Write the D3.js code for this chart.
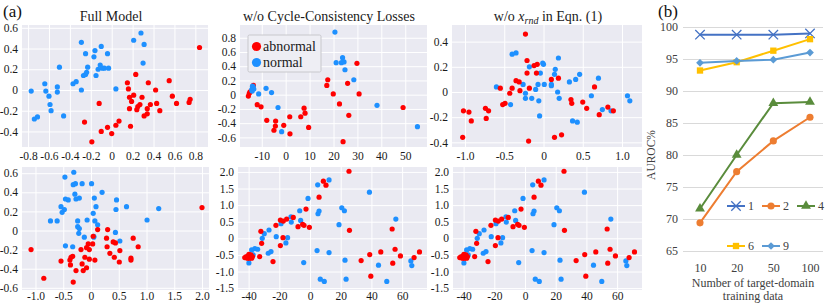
<!DOCTYPE html>
<html>
<head>
<meta charset="utf-8">
<script src="https://cdn.jsdelivr.net/npm/d3@7"></script>
<style>
  body { margin: 0; background: #fff; }
  svg { display: block; font-family: "Liberation Serif", "DejaVu Serif", serif; }
</style>
</head>
<body>
<div></div>
<script>
// ---- (a) embeddings: [x, y] per sample ----
const fullNormal = [[-0.77,-0.01],[-0.74,-0.28],[-0.71,-0.26],[-0.64,0.06],[-0.63,-0.01],[-0.60,-0.06],[-0.59,-0.14],[-0.58,-0.20],[-0.52,0.03],[-0.52,-0.02],[-0.50,0.22],[-0.46,-0.25],[-0.37,0.06],[-0.34,0.08],[-0.29,0.46],[-0.29,0.0],[-0.27,0.14],[-0.25,0.35],[-0.25,0.15],[-0.24,0.17],[-0.23,0.22],[-0.17,0.32],[-0.16,0.38],[-0.15,0.14],[-0.13,0.20],[-0.11,0.24],[-0.10,0.42],[-0.07,0.21],[-0.09,0.21],[-0.04,0.35],[-0.03,0.21],[0.04,0.01],[0.21,0.48],[0.28,0.55],[0.31,0.44],[0.30,0.26]];
const fullAbnormal = [[0.84,0.41],[-0.26,-0.31],[-0.19,-0.50],[-0.12,-0.13],[-0.10,-0.40],[-0.04,-0.36],[0.0,-0.42],[0.04,-0.34],[0.07,-0.30],[0.15,0.07],[0.16,0.01],[0.17,-0.07],[0.17,-0.18],[0.18,-0.35],[0.19,-0.11],[0.21,-0.05],[0.23,0.15],[0.24,-0.19],[0.25,-0.16],[0.27,-0.14],[0.29,-0.07],[0.31,-0.25],[0.34,-0.23],[0.34,-0.18],[0.35,0.07],[0.37,-0.14],[0.42,0.0],[0.43,-0.13],[0.46,-0.20],[0.55,0.09],[0.58,-0.06],[0.62,-0.13],[0.74,-0.12],[0.75,-0.09]];

const noCycleNormal = [[-14.2,0.07],[-13.6,0.11],[-13.9,0.12],[-13.3,0.08],[-14.0,0.05],[-13.7,0.09],[-11.3,0.01],[-8.2,0.09],[-5.9,0.03],[-3.2,-0.18],[-1.7,-0.52],[20.6,0.88],[21.1,0.45],[23.8,0.52],[23.3,0.45],[24.4,0.46],[24.8,0.35],[28.5,0.21],[38.2,-0.15],[55.1,-0.45]];
const noCycleAbnormal = [[-15.6,-0.02],[-15.2,0.02],[-14.9,0.04],[-13.5,0.13],[-11.9,-0.14],[-10.3,-0.17],[-7.9,-0.36],[-4.2,-0.37],[-4.3,-0.44],[-4.9,-0.50],[-0.8,-0.43],[1.7,-0.31],[1.8,-0.55],[6.3,-0.31],[7.7,-0.19],[8.1,-0.26],[9.6,-0.46],[17.2,0.13],[17.6,0.21],[19.9,0.01],[22.5,-0.13],[24.0,-0.66],[25.9,0.16],[26.4,-0.29],[29.8,0.44],[30.7,0.01],[49.1,-0.18]];

const noRndNormal = [[-0.60,0.04],[-0.42,-0.10],[-0.40,0.30],[-0.35,0.31],[-0.26,0.06],[-0.23,-0.01],[-0.23,-0.05],[-0.18,0.20],[-0.15,-0.05],[-0.10,0.02],[-0.07,0.06],[-0.06,-0.07],[-0.04,0.15],[-0.05,-0.19],[-0.01,0.23],[0.0,0.22],[0.01,0.06],[0.10,0.06],[0.10,0.05],[0.14,0.14],[0.15,0.18],[0.18,0.0],[0.19,0.27],[0.20,-0.05],[0.33,0.08],[0.37,-0.23],[0.41,0.10],[0.43,-0.24],[0.46,0.14],[0.61,-0.03],[0.70,0.11],[0.75,-0.14],[0.86,-0.15],[1.07,-0.03],[1.10,-0.07]];
const noRndAbnormal = [[-1.03,-0.36],[-1.02,-0.15],[-0.95,-0.16],[-0.92,-0.23],[-0.74,-0.13],[-0.70,-0.15],[-0.73,-0.21],[-0.55,0.03],[-0.52,-0.10],[-0.49,-0.09],[-0.43,-0.01],[-0.40,0.03],[-0.35,0.09],[-0.31,0.08],[-0.30,0.01],[-0.23,0.46],[-0.21,0.25],[-0.21,0.15],[-0.18,0.03],[-0.19,-0.39],[-0.12,0.21],[-0.08,0.22],[-0.09,0.15],[0.10,0.10],[0.14,-0.36],[0.19,0.11],[0.23,-0.34],[0.35,-0.06],[0.36,-0.09],[0.50,-0.08],[0.55,-0.13],[0.65,0.04],[0.71,-0.18],[0.82,-0.12],[0.89,-0.15]];

const pcaNormal = [[-0.47,0.56],[-0.31,0.61],[-0.32,0.48],[-0.28,0.49],[-0.16,0.49],[0.01,0.49],[0.20,0.40],[-0.46,0.33],[-0.41,0.32],[-0.29,0.38],[-0.27,0.33],[-0.21,0.34],[0.06,0.34],[0.46,0.32],[-0.54,0.25],[-0.48,0.22],[-0.52,0.19],[0.09,0.25],[0.45,0.22],[0.64,0.25],[0.04,0.18],[-0.73,0.10],[-0.61,0.10],[-0.24,0.10],[-0.07,0.11],[0.07,0.10],[0.12,0.06],[-0.24,0.04],[-0.21,0.02],[-0.22,-0.03],[-0.12,-0.07],[0.05,-0.06],[0.05,-0.07],[0.44,-0.02],[0.52,-0.11],[-0.46,-0.16],[-0.33,-0.17],[1.01,0.11],[1.22,0.23]];
const pcaAbnormal = [[2.0,0.24],[-1.08,-0.20],[-0.85,-0.50],[-0.54,-0.32],[-0.33,-0.27],[-0.36,-0.28],[-0.38,-0.31],[-0.37,-0.36],[-0.32,-0.54],[-0.27,-0.42],[-0.18,-0.20],[-0.16,-0.35],[-0.14,-0.42],[-0.11,-0.28],[-0.08,-0.39],[-0.08,-0.18],[-0.05,-0.14],[-0.03,-0.20],[-0.03,-0.30],[0.03,-0.14],[0.07,-0.31],[0.04,-0.06],[0.12,0.01],[0.28,-0.08],[0.29,-0.17],[0.30,0.01],[0.34,-0.24],[0.40,-0.12],[0.44,-0.13],[0.42,-0.28],[0.51,-0.33],[0.52,-0.21],[0.76,-0.08],[0.72,-0.29],[0.72,-0.31],[0.85,-0.17]];

// lower middle and lower right panels show the same embedding
const tsneNormal = [[12.4,1.76],[5.0,1.61],[38.7,1.39],[-1.3,1.20],[5.9,0.82],[5.2,0.74],[20.7,0.92],[22.4,0.83],[-6.7,0.83],[-6.1,0.54],[-12.4,0.65],[-12.2,0.49],[-18.9,0.44],[18.9,0.41],[55.9,0.58],[-26.7,0.25],[-29.8,0.14],[-31.1,0.0],[-22.0,0.05],[-14.6,0.02],[-15.7,-0.14],[-34.1,-0.33],[-35.9,-0.31],[-38.0,-0.35],[-37.0,-0.50],[-39.8,-0.74],[-27.2,-0.45],[-25.4,-0.40],[-4.1,-0.73],[4.6,-0.37],[12.4,-0.43],[6.7,-1.23],[9.3,-1.30],[22.8,-0.66],[23.5,-1.23],[44.6,-0.81],[50.0,-1.30],[65.7,-0.68],[66.3,-0.82]];
const tsneAbnormal = [[-42.5,-0.58],[-41.5,-0.55],[-40.8,-0.60],[-40.0,-0.52],[-39.5,-0.60],[-39.0,-0.55],[-38.5,-0.50],[-38.0,-0.60],[-37.5,-0.55],[-39.8,-0.48],[-32.8,-0.55],[-31.5,-0.15],[-32.0,0.21],[-24.1,-0.70],[-22.2,0.39],[-19.3,0.55],[-19.3,-0.22],[-17.4,0.52],[-17.6,0.02],[-15.2,0.58],[-10.9,0.63],[-7.8,0.35],[-4.8,0.42],[-3.9,0.39],[-2.6,0.88],[-0.4,0.33],[5.9,1.24],[8.7,1.72],[10.4,1.60],[25.4,2.02],[25.7,0.24],[33.3,-0.67],[38.9,-0.49],[39.6,-1.14],[46.1,-0.41],[53.5,0.28],[55.4,-0.33],[53.9,-0.75],[58.9,-0.53],[67.8,-0.58],[71.3,-0.41]];

// tick values
const fullXTicks = [-0.8,-0.6,-0.4,-0.2,0,0.2,0.4,0.6,0.8];
const fullYTicks = [-0.4,-0.2,0,0.2,0.4,0.6];
const noCycleXTicks = [-10,0,10,20,30,40,50];
const noCycleYTicks = [-0.6,-0.4,-0.2,0,0.2,0.4,0.6,0.8];
const noRndXTicks = [-1.0,-0.5,0,0.5,1.0];
const noRndYTicks = [-0.4,-0.2,0,0.2,0.4];
const pcaXTicks = [-1.0,-0.5,0,0.5,1.0,1.5,2.0];
const pcaYTicks = [-0.6,-0.4,-0.2,0,0.2,0.4,0.6];
const tsneXTicks = [-40,-20,0,20,40,60];
const tsneYTicks = [-1.5,-1.0,-0.5,0,0.5,1.0,1.5,2.0];
const classNames = ['abnormal', 'normal'];

// ---- (b) AUROC vs amount of target-domain data ----
const trainSizes = ['10', '20', '50', '100'];
const seriesNames = ['1', '2', '4', '6', '9'];
const auroc1 = [98.8, 98.8, 98.8, 99.0];
const auroc2 = [69.4, 77.4, 82.2, 85.9];
const auroc4 = [71.6, 80.0, 88.1, 88.3];
const auroc6 = [93.2, 94.5, 96.3, 98.1];
const auroc9 = [94.4, 94.7, 94.9, 96.0];
const aurocTicks = [65, 70, 75, 80, 85, 90, 95, 100];

const W = 830, H = 305;
const red = '#ff0000', blue = '#1e90ff';
const serif = '"Liberation Serif", "DejaVu Serif", serif';

const svg = d3.select('body').select('div')
    .append('svg')
    .attr('width', W)
    .attr('height', H)
    .attr('font-family', serif);

const fmt = v => v === 0 ? '0' : (Number.isInteger(v) && Math.abs(v) >= 10 ? String(v) : v.toFixed(1));

const panels = [
    {title: 'Full Model', tx: 111, normal: fullNormal, abnormal: fullAbnormal, pad: 5,
     xr: [22, 208], yr: [147, 25], xd: [-0.858, 0.921], yd: [-0.55, 0.627], xt: fullXTicks, yt: fullYTicks},
    {title: 'w/o Cycle-Consistency Losses', tx: 329, normal: noCycleNormal, abnormal: noCycleAbnormal, blueOnTop: true, pad: 5,
     xr: [240, 427], yr: [147, 25], xd: [-19.1, 59.1], yd: [-0.735, 0.979], xt: noCycleXTicks, yt: noCycleYTicks, legend: true},
    {title: 'rnd', tx: 548, normal: noRndNormal, abnormal: noRndAbnormal, pad: 5,
     xr: [452, 642], yr: [147, 25], xd: [-1.166, 1.255], yd: [-0.437, 0.532], xt: noRndXTicks, yt: noRndYTicks},
    {normal: pcaNormal, abnormal: pcaAbnormal, pad: 2,
     xr: [22, 209], yr: [290, 167], xd: [-1.243, 2.126], yd: [-0.623, 0.665], xt: pcaXTicks, yt: pcaYTicks},
    {normal: tsneNormal, abnormal: tsneAbnormal, pad: 2,
     xr: [238, 427], yr: [290, 167], xd: [-46.9, 76.2], yd: [-1.557, 2.148], xt: tsneXTicks, yt: tsneYTicks},
    {normal: tsneNormal, abnormal: tsneAbnormal, pad: 2,
     xr: [453, 642], yr: [290, 167], xd: [-46.9, 76.2], yd: [-1.557, 2.148], xt: tsneXTicks, yt: tsneYTicks}
];

panels.forEach((p, i) => {
    const x = d3.scaleLinear().domain(p.xd).range(p.xr);
    const y = d3.scaleLinear().domain(p.yd).range(p.yr);
    const g = svg.append('g');

    g.append('rect')
        .attr('x', p.xr[0]).attr('y', p.yr[1])
        .attr('width', p.xr[1] - p.xr[0]).attr('height', p.yr[0] - p.yr[1])
        .attr('fill', '#eaeaf2');

    // white grid
    g.append('g')
        .attr('transform', `translate(0, ${p.yr[0]})`)
        .call(d3.axisBottom(x).tickValues(p.xt).tickSize(-(p.yr[0] - p.yr[1])).tickFormat(''))
        .call(a => a.select('.domain').remove())
        .call(a => a.selectAll('line').attr('stroke', '#fff').attr('stroke-width', 1));
    g.append('g')
        .attr('transform', `translate(${p.xr[0]}, 0)`)
        .call(d3.axisLeft(y).tickValues(p.yt).tickSize(-(p.xr[1] - p.xr[0])).tickFormat(''))
        .call(a => a.select('.domain').remove())
        .call(a => a.selectAll('line').attr('stroke', '#fff').attr('stroke-width', 1));

    // tick labels
    g.append('g')
        .attr('transform', `translate(0, ${p.yr[0]})`)
        .call(d3.axisBottom(x).tickValues(p.xt).tickSize(0).tickPadding(p.pad).tickFormat(fmt))
        .call(a => a.select('.domain').remove())
        .attr('font-family', serif).attr('font-size', 11.5)
        .style('color', '#1a1a1a');
    g.append('g')
        .attr('transform', `translate(${p.xr[0]}, 0)`)
        .call(d3.axisLeft(y).tickValues(p.yt).tickSize(0).tickPadding(4).tickFormat(fmt))
        .call(a => a.select('.domain').remove())
        .attr('font-family', serif).attr('font-size', 11.5)
        .style('color', '#1a1a1a');

    const layers = p.blueOnTop ? [[p.abnormal, red], [p.normal, blue]] : [[p.normal, blue], [p.abnormal, red]];
    layers.forEach(([pts, col]) => {
        g.append('g').selectAll('circle')
            .data(pts)
            .enter()
            .append('circle')
            .attr('cx', d => x(d[0]))
            .attr('cy', d => y(d[1]))
            .attr('r', 2.6)
            .attr('fill', col);
    });

    if (p.title) {
        const t = g.append('text')
            .attr('x', p.tx).attr('y', 21)
            .attr('text-anchor', 'middle')
            .attr('font-size', 14)
            .attr('fill', '#1a1a1a');
        if (i === 2) {
            t.append('tspan').text('w/o ');
            t.append('tspan').attr('font-style', 'italic').text('x');
            t.append('tspan').attr('font-style', 'italic').attr('font-size', 10).attr('dy', 3).text(p.title);
            t.append('tspan').attr('dy', -3).text(' in Eqn. (1)');
        } else {
            t.text(p.title);
        }
    }

    if (p.legend) {
        const lg = g.append('g').attr('transform', 'translate(248, 35)');
        lg.append('rect')
            .attr('width', 73).attr('height', 37)
            .attr('fill', '#eeeef4').attr('stroke', '#c8c8cc').attr('stroke-width', 1)
            .attr('rx', 1.5);
        [red, blue].forEach((col, k) => {
            lg.append('circle').attr('cx', 8.5).attr('cy', 11.5 + k * 16).attr('r', 4.6).attr('fill', col);
            lg.append('text').attr('x', 15).attr('y', 16 + k * 16)
                .attr('font-size', 14).attr('fill', '#1a1a1a')
                .text(classNames[k]);
        });
    }
});

svg.append('text').attr('x', 3).attr('y', 17).attr('font-size', 17).attr('fill', '#111').text('(a)');
svg.append('text').attr('x', 658).attr('y', 17).attr('font-size', 17).attr('fill', '#111').text('(b)');

// ---- (b) line chart ----
const bx = d3.scalePoint().domain(trainSizes).range([700, 810]);
const by = d3.scaleLinear().domain([65, 100]).range([251, 27]);
const b = svg.append('g');

b.append('g')
    .attr('transform', 'translate(683, 0)')
    .call(d3.axisLeft(by).tickValues(aurocTicks).tickSize(-140).tickFormat(''))
    .call(a => a.select('.domain').remove())
    .call(a => a.selectAll('line').attr('stroke', '#d9d9d9').attr('stroke-width', 1));
b.append('g')
    .attr('transform', 'translate(683, 0)')
    .call(d3.axisLeft(by).tickValues(aurocTicks).tickSize(0).tickPadding(5))
    .call(a => a.select('.domain').remove())
    .attr('font-family', serif).attr('font-size', 12)
    .style('color', '#404040');
b.append('g')
    .attr('transform', 'translate(0, 251)')
    .call(d3.axisBottom(bx).tickSize(0).tickPadding(12))
    .call(a => a.select('.domain').remove())
    .attr('font-family', serif).attr('font-size', 12)
    .style('color', '#404040');

b.append('text')
    .attr('transform', 'translate(655, 155) rotate(-90)')
    .attr('text-anchor', 'middle').attr('font-size', 11.5).attr('fill', '#404040')
    .text('AUROC%');
b.append('text').attr('x', 753).attr('y', 287).attr('text-anchor', 'middle')
    .attr('font-size', 12).attr('fill', '#404040').text('Number of target-domain');
b.append('text').attr('x', 753).attr('y', 300).attr('text-anchor', 'middle')
    .attr('font-size', 12).attr('fill', '#404040').text('training data');

const seriesValues = [auroc1, auroc2, auroc4, auroc6, auroc9];
const seriesColors = ['#4472c4', '#ed7d31', '#5a8c3c', '#ffc000', '#5b9bd5'];
const timesSym = d3.symbolTimes || {draw(c, s) { const r = Math.sqrt(s) / 2; c.moveTo(-r, -r); c.lineTo(r, r); c.moveTo(r, -r); c.lineTo(-r, r); }};
const seriesSymbols = [
    {type: timesSym, size: 60, stroke: true},
    {type: d3.symbolCircle, size: 40},
    {type: d3.symbolTriangle, size: 42},
    {type: d3.symbolSquare, size: 40},
    {type: d3.symbolSquare, size: 30, rotate: 45}
];

function marker(sel, k) {
    const s = seriesSymbols[k];
    const p = sel.append('path')
        .attr('d', d3.symbol().type(s.type).size(s.size)());
    if (s.stroke) p.attr('fill', 'none').attr('stroke', seriesColors[k]).attr('stroke-width', 1.3);
    else p.attr('fill', seriesColors[k]);
    if (s.rotate) p.attr('transform', `rotate(${s.rotate})`);
}

const line = d3.line().x((d, i) => bx(trainSizes[i])).y(d => by(d));
seriesValues.forEach((vals, k) => {
    b.append('path')
        .attr('d', line(vals))
        .attr('fill', 'none')
        .attr('stroke', seriesColors[k])
        .attr('stroke-width', 2);
    vals.forEach((v, i) => {
        const m = b.append('g').attr('transform', `translate(${bx(trainSizes[i])}, ${by(v)})`);
        marker(m, k);
    });
});

// legend of (b): two rows
const legPos = [[727, 206], [762, 206], [797, 206], [727, 246], [762, 246]];
seriesNames.forEach((name, k) => {
    const lg = b.append('g').attr('transform', `translate(${legPos[k][0]}, ${legPos[k][1]})`);
    lg.append('line').attr('x1', 0).attr('x2', 18).attr('stroke', seriesColors[k]).attr('stroke-width', 2);
    const m = lg.append('g').attr('transform', 'translate(9, 0)');
    marker(m, k);
    lg.append('text').attr('x', 21).attr('y', 4).attr('font-size', 12).attr('fill', '#404040').text(name);
});
</script>
</body>
</html>
